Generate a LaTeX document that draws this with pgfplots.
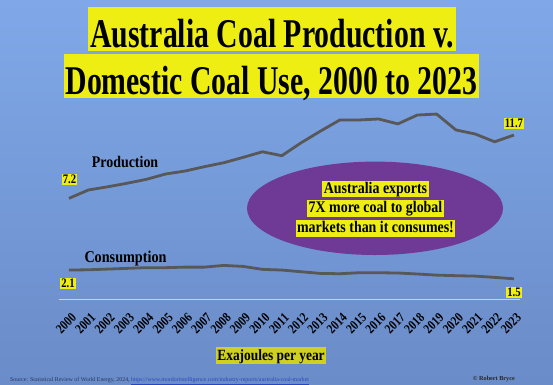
\documentclass[border=0pt]{standalone}
\usepackage{pgfplots}
\pgfplotsset{compat=1.18}
\usepackage{fontspec}
\setmainfont{Liberation Serif}
\newfontfamily\titlefont[FakeStretch=0.73,UprightFont={* Bold}]{Liberation Serif}
\newfontfamily\labfont[FakeStretch=0.86,UprightFont={* Bold}]{Liberation Serif}
\newfontfamily\numfont[FakeStretch=0.82,UprightFont={* Bold}]{Liberation Serif}
\definecolor{bgtop}{RGB}{128,168,232}
\definecolor{bgbot}{RGB}{106,140,200}
\definecolor{hl}{RGB}{238,238,18}
\definecolor{hldim}{RGB}{208,208,32}
\definecolor{purp}{RGB}{110,58,150}
\definecolor{linegray}{RGB}{88,88,88}
\definecolor{axgray}{RGB}{200,210,228}
\definecolor{srccol}{RGB}{40,55,100}
\definecolor{urlcol}{RGB}{40,70,190}

\pgfplotstableread{
x prod cons
0  7.20 2.10
1  7.79 2.12
2  8.02 2.17
3  8.27 2.22
4  8.55 2.27
5  8.93 2.27
6  9.14 2.31
7  9.45 2.31
8  9.73 2.43
9  10.11 2.36
10 10.51 2.15
11 10.23 2.10
12 11.15 1.98
13 11.98 1.86
14 12.77 1.84
15 12.77 1.91
16 12.84 1.91
17 12.49 1.89
18 13.12 1.82
19 13.19 1.74
20 12.06 1.70
21 11.77 1.67
22 11.22 1.58
23 11.70 1.48
}\coal

\begin{document}
\begin{tikzpicture}[x=1pt,y=1pt]
% background
\shade[top color=bgtop,bottom color=bgbot] (0,0) rectangle (553,384);
% ellipse
\fill[purp] (375,175.7) ellipse [x radius=128, y radius=46.7];

\begin{axis}[
  at={(59.3pt,84.4pt)}, anchor=south west,
  scale only axis, width=460.5pt, height=211pt,
  xmin=-0.5, xmax=23.3, ymin=0, ymax=15,
  hide y axis,
  axis x line*=bottom,
  x axis line style={-, draw=axgray, line width=0.7pt},
  xtick={0,...,23},
  xticklabels={2000,2001,2002,2003,2004,2005,2006,2007,2008,2009,2010,2011,2012,2013,2014,2015,2016,2017,2018,2019,2020,2021,2022,2023},
  major tick length=0pt,
  xticklabel style={font=\numfont\fontsize{13.5}{13.5}\selectfont, text=black, inner sep=0pt, yshift=-16pt, xshift=5pt, rotate=45, anchor=east},
  clip=false,
]
\addplot[linegray, line width=2.8pt, line join=round] table[x=x,y=prod] {\coal};
\addplot[linegray, line width=2.8pt, line join=round] table[x=x,y=cons] {\coal};
\end{axis}

% title
\node[fill=hl, inner xsep=2pt, inner ysep=0pt, text height=40.7pt, text depth=3.3pt, anchor=base, font=\titlefont\fontsize{40.8}{40.8}\selectfont] at (272,336.3) {Australia Coal Production v.};
\node[fill=hl, inner xsep=2pt, inner ysep=0pt, text height=40.7pt, text depth=3.3pt, anchor=base, font=\titlefont\fontsize{40.8}{40.8}\selectfont] at (271.5,289.3) {Domestic Coal Use, 2000 to 2023};

% series labels
\node[anchor=base west, inner sep=0pt, font=\labfont\fontsize{16.2}{16.2}\selectfont] at (91.7,216.7) {Production};
\node[anchor=base west, inner sep=0pt, font=\labfont\fontsize{16.5}{16.5}\selectfont] at (84.3,121.3) {Consumption};

% value labels
\tikzset{val/.style={fill=hl, inner xsep=1pt, inner ysep=1.2pt, font=\numfont\fontsize{13}{13}\selectfont}}
\node[val] at (69.5,204.5) {7.2};
\node[val] at (514,260.7) {11.7};
\node[val] at (68,100.7) {2.1};
\node[val] at (514,91.5) {1.5};

% ellipse text
\tikzset{etx/.style={fill=hl, inner xsep=1.5pt, inner ysep=0.6pt, text height=12pt, text depth=3.5pt, font=\labfont\fontsize{16.2}{16.2}\selectfont}}
\node[etx] at (375.5,195) {Australia exports};
\node[etx] at (375.5,175.3) {7X more coal to global};
\node[etx] at (375.5,155.5) {markets than it consumes!};

% y label
\node[fill=hldim, inner xsep=1.5pt, inner ysep=0.6pt, text height=12pt, text depth=3.5pt, font=\labfont\fontsize{15.6}{15.6}\selectfont] at (271,28.2) {Exajoules per year};

% source
\node[anchor=base west, inner sep=0pt, font=\fontsize{5.9}{5.9}\selectfont, text=srccol] at (10,2.5) {Source: Statistical Review of World Energy, 2024, \textcolor{urlcol}{\underline{https://www.mordorintelligence.com/industry-reports/australia-coal-market}}};
\node[anchor=base east, inner sep=0pt, font=\bfseries\fontsize{6.2}{6.2}\selectfont, text=black!85] at (515,4) {\textcopyright{} Robert Bryce};
\end{tikzpicture}
\end{document}
